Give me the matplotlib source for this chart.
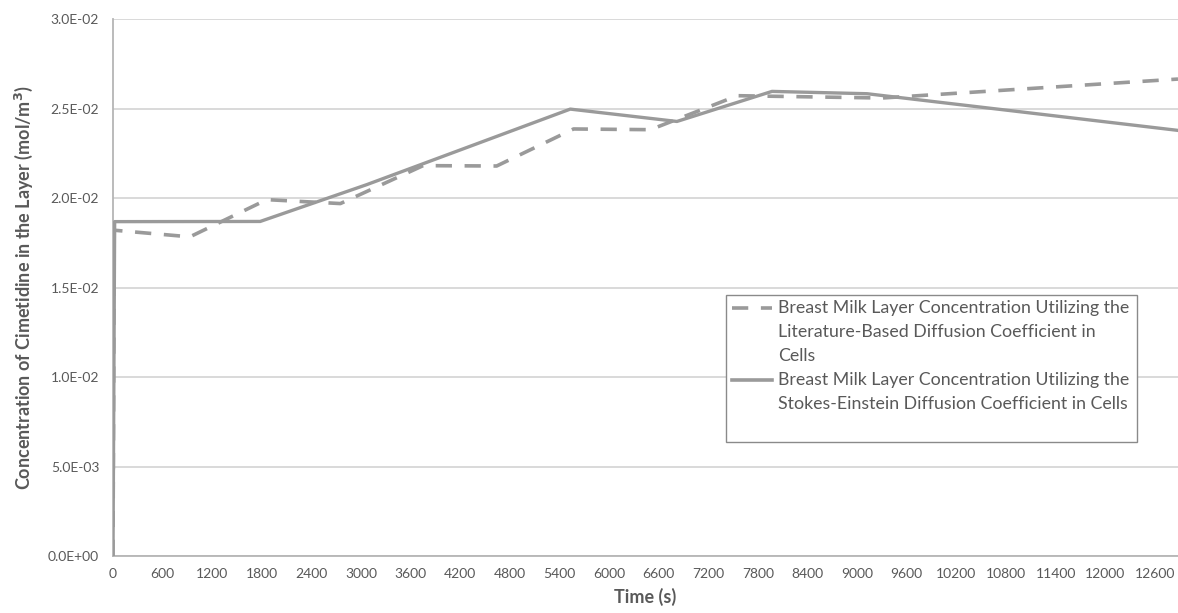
import matplotlib.pyplot as plt
from matplotlib.patches import Rectangle
from matplotlib.lines import Line2D
from matplotlib.ticker import FuncFormatter

plt.rcParams['font.family'] = ['Lato', 'DejaVu Sans']

# Time points (s) and concentrations (mol/m3)
t_lit = [0, 15, 930, 1860, 2750, 3750, 4640, 5570, 6500, 7550, 9300, 12880]
c_lit = [0.0, 0.01821, 0.01784, 0.01992, 0.01970, 0.02182, 0.02180,
         0.02387, 0.02383, 0.02573, 0.02560, 0.02666]

t_se = [0, 20, 1780, 3070, 5530, 6820, 7970, 9120, 12880]
c_se = [0.0, 0.01869, 0.01870, 0.02076, 0.02498, 0.02429, 0.02597,
        0.02584, 0.02379]

x_ticks = list(range(0, 12601, 600))
y_ticks = [0.0, 0.005, 0.010, 0.015, 0.020, 0.025, 0.030]

lab_lit = ["Breast Milk Layer Concentration Utilizing the",
           "Literature-Based Diffusion Coefficient in", "Cells"]
lab_se = ["Breast Milk Layer Concentration Utilizing the",
          "Stokes-Einstein Diffusion Coefficient in Cells"]

line_col = '#9a9a9a'
grid_col = '#cfcfcf'
text_col = '#595959'
dash = (0, (4.5, 3.5))

W, H = 1178, 613
fig = plt.figure(figsize=(W / 100, H / 100), dpi=100)
ax = fig.add_axes([113 / W, 1 - 556 / H, 1 - 113 / W, (556 - 19.3) / H])

ax.plot(t_lit, c_lit, color=line_col, lw=2.6, ls=dash,
        solid_joinstyle='round', zorder=3)
ax.plot(t_se, c_se, color=line_col, lw=2.4, solid_joinstyle='round', zorder=3)

ax.set_xlim(0, 12880)
ax.set_ylim(0, 0.030)
ax.set_xticks(x_ticks)
ax.set_yticks(y_ticks)
ax.yaxis.set_major_formatter(FuncFormatter(lambda v, p: f"{v:.1E}"))
ax.tick_params(length=0, labelsize=10, labelcolor=text_col)
ax.tick_params(axis='x', pad=9)
ax.tick_params(axis='y', pad=10)

ax.grid(axis='y', color=grid_col, lw=1.1)
ax.set_axisbelow(True)
for s in ['top', 'right']:
    ax.spines[s].set_visible(False)
for s in ['left', 'bottom']:
    ax.spines[s].set_color('#b5b5b5')
    ax.spines[s].set_linewidth(1.3)

ax.set_xlabel('Time (s)', fontsize=13, fontweight='bold', color=text_col, labelpad=5)
ax.set_ylabel('Concentration of Cimetidine in the Layer (mol/m$^\\mathbf{3}$)',
              fontsize=13, fontweight='bold', color=text_col, labelpad=9)

# legend drawn by hand, Excel style: handle next to the first line of each entry
def fx(px):
    return px / W

def fy(py):
    return 1 - py / H

fig.patches.append(Rectangle((fx(726), fy(442)), fx(1137 - 726), (442 - 295) / H,
                             transform=fig.transFigure, facecolor='white',
                             edgecolor='#8a8a8a', lw=1.0, zorder=5))
row_y = 308
for lines, style in [(lab_lit, dash), (lab_se, '-')]:
    fig.add_artist(Line2D([fx(732), fx(772)], [fy(row_y), fy(row_y)],
                          color=line_col, lw=2.6, ls=style, zorder=6))
    for ln in lines:
        fig.text(fx(778), fy(row_y), ln, fontsize=12.8, color=text_col,
                 va='center', ha='left', zorder=6)
        row_y += 24

fig.savefig('out.png', dpi=100)
